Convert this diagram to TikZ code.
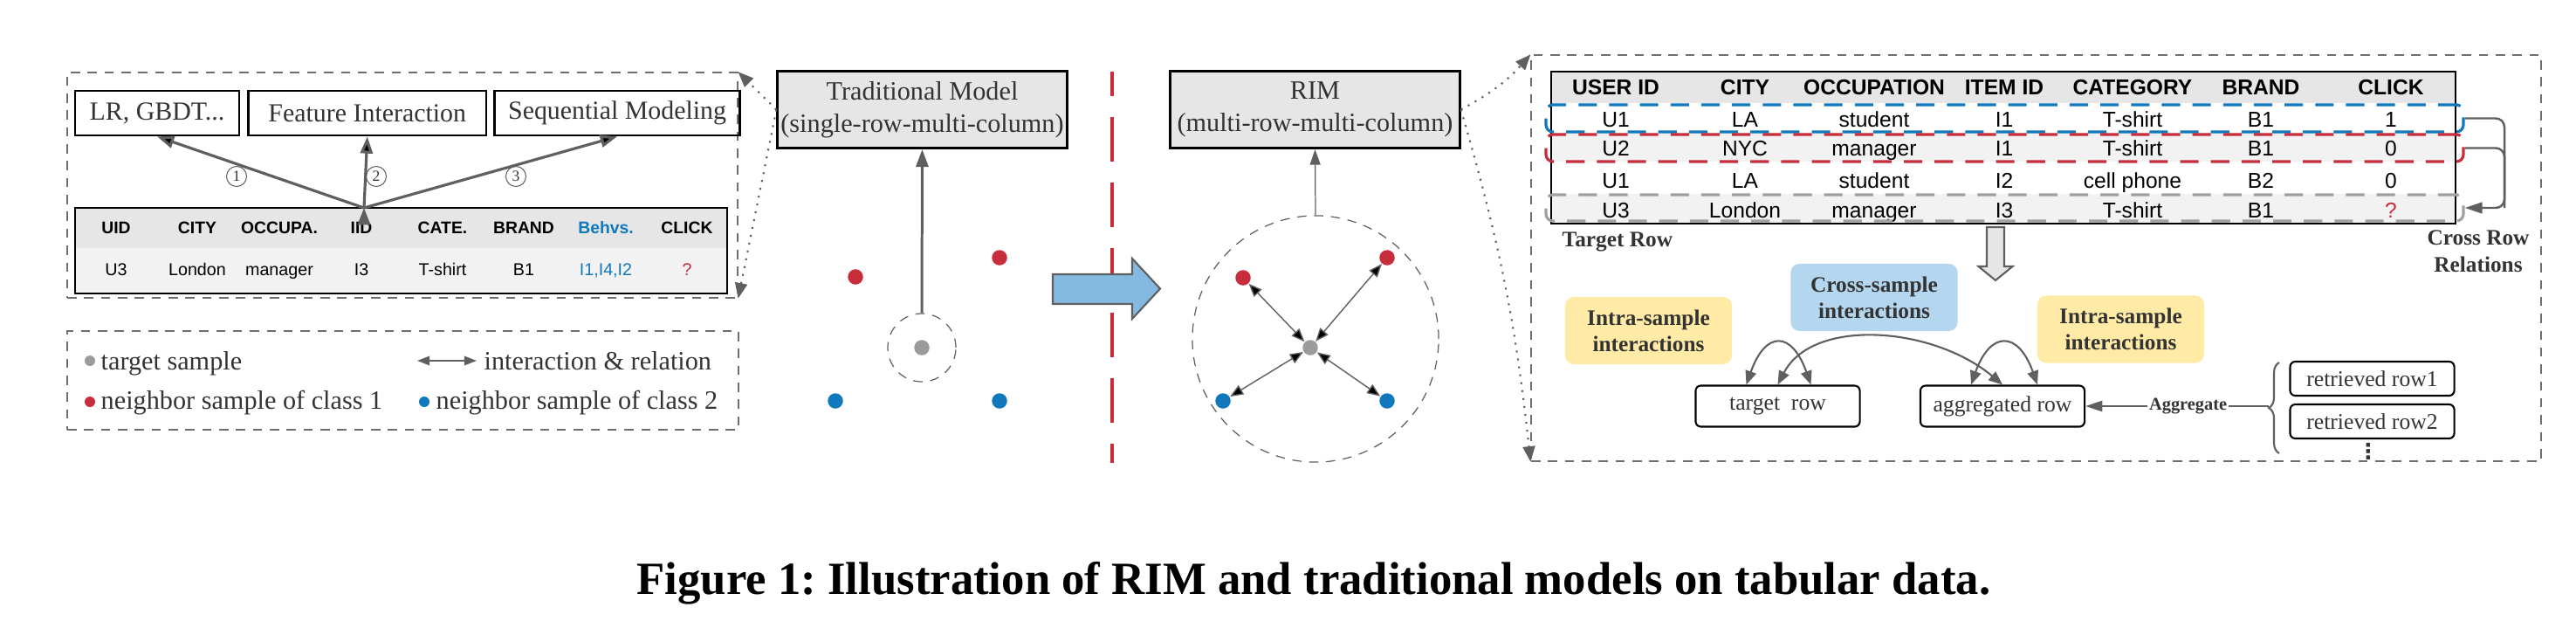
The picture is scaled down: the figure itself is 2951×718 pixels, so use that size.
\documentclass[tikz,border=0pt]{standalone}
\usepackage{fontspec}
\setmainfont{Liberation Serif}
\setsansfont{Liberation Sans}
\newfontfamily\symfont{DejaVu Sans}
\frenchspacing
\definecolor{rimred}{RGB}{200,45,60}
\definecolor{rimblue}{RGB}{16,121,189}
\definecolor{dotgray}{RGB}{155,155,155}
\definecolor{linegray}{RGB}{95,95,95}
\definecolor{panelgray}{RGB}{110,110,110}
\definecolor{headgray}{RGB}{230,230,230}
\definecolor{rowgray}{RGB}{242,242,242}
\definecolor{markgray}{RGB}{160,160,160}
\definecolor{intrayellow}{RGB}{255,234,166}
\definecolor{crossblue}{RGB}{180,214,239}
\definecolor{fatblue}{RGB}{132,185,226}
\definecolor{txtgray}{RGB}{51,51,51}
\usetikzlibrary{calc}
\usetikzlibrary{positioning}
\usetikzlibrary{fit,arrows.meta,decorations.pathreplacing}

\tikzset{
  panel/.style={draw=panelgray, dash pattern=on 3pt off 2.5pt, line width=0.35pt, inner sep=0pt},
  topbox/.style={draw=black, line width=0.75pt, minimum height=5.1mm, inner sep=0pt, text=txtgray, font=\fontsize{8.5}{10.5}\selectfont},
  modelbox/.style={draw=black, line width=0.85pt, fill=headgray, align=center, inner sep=0pt, minimum width=33.1mm, minimum height=8.8mm, text=txtgray, font=\fontsize{8.6}{10.5}\selectfont},
  tabframe/.style={draw=black, line width=0.4pt, inner sep=0pt},
  lhead/.style={anchor=base, inner sep=0pt, font=\sffamily\bfseries\fontsize{5.5}{6}\selectfont},
  lcell/.style={anchor=base, inner sep=0pt, font=\sffamily\fontsize{5.6}{6}\selectfont},
  rhead/.style={anchor=base, inner sep=0pt, font=\sffamily\bfseries\fontsize{7}{8}\selectfont},
  rcell/.style={anchor=base, inner sep=0pt, font=\sffamily\fontsize{7}{8}\selectfont},
  numcirc/.style={circle, draw=linegray, line width=0.3pt, inner sep=0pt, minimum size=2.3mm, text=txtgray, font=\fontsize{5}{5}\selectfont},
  legtext/.style={anchor=base west, inner sep=0pt, text=txtgray, font=\fontsize{8.6}{10}\selectfont},
  dot/.style={circle, inner sep=0pt, minimum size=1.75mm},
  ring/.style={circle, draw=linegray, dash pattern=on 3pt off 2.5pt, line width=0.35pt, inner sep=0pt},
  fanarrow/.style={draw=linegray, line width=0.9pt, -{Triangle[length=5.5pt,width=4pt]}},
  modelarrow/.style={draw=linegray, line width=0.85pt, -{Triangle[length=5.7pt,width=4pt]}},
  rimarrow/.style={draw=linegray, line width=0.35pt, -{Triangle[length=5pt,width=3.4pt]}},
  duoarrow/.style={draw=linegray, line width=0.4pt, {Triangle[length=4.3pt,width=3.4pt]}-{Triangle[length=4.3pt,width=3.4pt]}},
  legarrow/.style={draw=linegray, line width=0.4pt, {Triangle[length=4pt,width=3pt]}-{Triangle[length=4pt,width=3pt]}},
  dotarrow/.style={draw=linegray, line width=0.6pt, dotted, -{Triangle[length=5pt,width=4pt]}},
  rowmark/.style={draw=#1, line width=0.9pt, dash pattern=on 6pt off 4pt, rounded corners=0.8mm, inner sep=0pt},
  relline/.style={draw=linegray, line width=0.7pt, rounded corners=1mm},
  boldlabel/.style={inner sep=0pt, text=txtgray, font=\bfseries\fontsize{7.2}{8.8}\selectfont},
  intrabox/.style={fill=intrayellow, rounded corners=1mm, align=center, inner sep=0pt, minimum width=19.1mm, minimum height=7.7mm, text=txtgray, font=\bfseries\fontsize{7.2}{8.5}\selectfont},
  rowbox/.style={draw=black, line width=0.6pt, rounded corners=0.6mm, inner sep=0pt, minimum width=18.8mm, minimum height=4.7mm, text=txtgray, font=\fontsize{7.3}{8}\selectfont},
  looparrow/.style={draw=linegray, line width=0.6pt, {Triangle[length=4.5pt,width=3.6pt]}-{Triangle[length=4.5pt,width=3.6pt]}},
  aggarrow/.style={draw=linegray, line width=0.6pt, -{Triangle[length=5.5pt,width=3.5pt]}}
}

\begin{document}
\begin{tikzpicture}[x=0.01cm, y=-0.01cm]
  \useasboundingbox (0,0) rectangle (2951,718);

  % single row, multi column
  \node [panel, fit={(77,83) (845,341)}] (leftpanel) {};
  \node [topbox, minimum width=18.8mm] (lrbox) at (180,129.5) {LR, GBDT...};
  \node [topbox, minimum width=27.2mm, right=0.8mm of lrbox] (fibox) {Feature Interaction};
  \node [topbox, minimum width=28.1mm, right=0.7mm of fibox] (smbox) {Sequential Modeling};

  \fill [rowgray] (86,284) rectangle (833,336);
  \fill [headgray] (86,238) rectangle (833,284);
  \node [tabframe, fit={(86,238) (833,336)}] (ltab) {};
  \foreach \x/\t [count=\i] in {133/UID, 226/CITY, 320/OCCUPA., 414/IID, 507/CATE., 600/BRAND, 787/CLICK}
    \node [lhead] (lh\i) at (\x,267) {\t};
  \node [lhead, text=rimblue] (lh8) at (694,267) {Behvs.};
  \foreach \x/\t [count=\i] in {133/U3, 226/London, 320/manager, 414/I3, 507/T-shirt, 600/B1}
    \node [lcell] (lv\i) at (\x,315) {\t};
  \node [lcell, text=rimblue] (lv7) at (694,315) {I1,I4,I2};
  \node [lcell, text=rimred] (lv8) at (787,315) {?};

  \coordinate (fork) at (417,238);
  \draw [fanarrow] (fork) edge (lrbox.south) (fork) edge (fibox.south) (fork) edge (smbox.south);
  \node [numcirc] (num1) at (271,202) {1};
  \node [numcirc] (num2) at (431,202) {2};
  \node [numcirc] (num3) at (591,202) {3};

  % legend
  \node [panel, fit={(77,379) (846,492)}] (legend) {};
  \node [dot, minimum size=1.2mm, fill=dotgray] (lgdot1) at (103,413) {};
  \node [legtext] (lgtext1) at (115,423) {target sample};
  \coordinate (lgarrowL) at (478,413);
  \coordinate (lgarrowR) at (546,413);
  \draw [legarrow] (lgarrowL) -- (lgarrowR);
  \node [legtext] (lgtext2) at (554,423) {interaction \& relation};
  \node [dot, minimum size=1.2mm, fill=rimred] (lgdot3) at (103,460) {};
  \node [legtext] (lgtext3) at (115,468) {neighbor sample of class 1};
  \node [dot, minimum size=1.2mm, fill=rimblue] (lgdot4) at (486,460) {};
  \node [legtext] (lgtext4) at (499,468) {neighbor sample of class 2};

  % traditional model
  \node [modelbox] (trad) at (1056.5,125.5) {Traditional Model\\(single-row-multi-column)};
  \node [ring, minimum size=7.8mm] (tring) at (1056,398) {};
  \node [dot, fill=dotgray] (tcenter) at (1056,398) {};
  \node [dot, fill=rimred] (tred1) at (980,317) {};
  \node [dot, fill=rimred] (tred2) at (1145,295) {};
  \node [dot, fill=rimblue] (tblue1) at (957,459) {};
  \node [dot, fill=rimblue] (tblue2) at (1145,459) {};
  \draw [modelarrow] (tring.north) -- (trad.south);

  \draw [dotarrow] (trad.west) -- (leftpanel.north east);
  \draw [dotarrow] (trad.west) -- (leftpanel.south east);

  \coordinate (septop) at (1274,82);
  \coordinate (sepbot) at (1274,530);
  \draw [rimred, line width=1pt, dash pattern=on 14.5pt off 6.8pt, dash phase=6.6pt] (septop) -- (sepbot);
  \draw [fill=fatblue, draw=linegray, line width=0.6pt] (1206,314) -- (1297,314) -- (1297,296) -- (1329,330.5) -- (1297,365) -- (1297,348) -- (1206,348) -- cycle;

  % RIM
  \node [modelbox] (rim) at (1506.5,125.5) {RIM\\(multi-row-multi-column)};
  \node [ring, minimum size=28.2mm] (rring) at (1507,388) {};
  \node [dot, fill=dotgray] (rcenter) at (1501,398) {};
  \node [dot, fill=rimred] (rred1) at (1424,318) {};
  \node [dot, fill=rimred] (rred2) at (1589,295) {};
  \node [dot, fill=rimblue] (rblue1) at (1401,459) {};
  \node [dot, fill=rimblue] (rblue2) at (1589,459) {};
  \draw [rimarrow] (rring.north) -- (rim.south);
  \draw [duoarrow] (rcenter) edge (rred1) (rcenter) edge (rred2) (rcenter) edge (rblue1) (rcenter) edge (rblue2);

  \node [panel, fit={(1754,63) (2911,528)}] (rightpanel) {};
  \draw [dotarrow] (rim.east) to[bend right=10] (rightpanel.north west);
  \draw [dotarrow] (rim.east) to[bend left=5] (rightpanel.south west);

  % multi row table
  \fill [headgray] (1777,82) rectangle (2813,118);
  \fill [rowgray] (1777,152) rectangle (2813,185);
  \fill [rowgray] (1777,222) rectangle (2813,256);
  \node [tabframe, fit={(1777,82) (2813,256)}] (rtab) {};
  \foreach \x/\t [count=\i] in {1851/USER ID, 1999/CITY, 2147/OCCUPATION, 2296/ITEM ID, 2443/CATEGORY, 2590/BRAND, 2739/CLICK}
    \node [rhead] (rh\i) at (\x,108) {\t};
  \foreach \y/\va/\vb/\vc/\vd/\ve/\vf/\vg [count=\r] in {145/U1/LA/student/I1/T-shirt/B1/1, 178/U2/NYC/manager/I1/T-shirt/B1/0, 215/U1/LA/student/I2/cell phone/B2/0, 249/U3/London/manager/I3/T-shirt/B1/{\textcolor{rimred}{?}}} {
    \node [rcell] (r\r a) at (1851,\y) {\va};
    \node [rcell] (r\r b) at (1999,\y) {\vb};
    \node [rcell] (r\r c) at (2147,\y) {\vc};
    \node [rcell] (r\r d) at (2296,\y) {\vd};
    \node [rcell] (r\r e) at (2443,\y) {\ve};
    \node [rcell] (r\r f) at (2590,\y) {\vf};
    \node [rcell] (r\r g) at (2739,\y) {\vg};
  }
  \node [rowmark=rimblue, fit={(1771,120) (2822,151)}] (urow1) {};
  \node [rowmark=rimred, fit={(1771,154) (2822,185)}] (urow2) {};
  \node [rowmark=markgray, fit={(1771,223) (2822,253)}] (urow4) {};

  \coordinate (relx) at (2869,0);
  \draw [relline] (urow2.east) -| (urow4.east -| relx);
  \draw [relline, -{Triangle[length=5.7pt,width=3.6pt]}] (urow1.east) -- (urow1.east -| relx) |- (urow4.east);

  \node [boldlabel, anchor=base west] (tgtlabel) at (1789,282) {Target Row};
  \node [boldlabel, align=center] (crlabel) at (2839,288) {Cross Row\\Relations};

  \draw [fill=headgray, draw=linegray, line width=0.6pt] (2276,260) -- (2296,260) -- (2296,305) -- (2305.5,305) -- (2286,321) -- (2266.5,305) -- (2276,305) -- cycle;

  % interactions
  \node [intrabox] (intraL) at (1888.5,378.5) {Intra-sample\\interactions};
  \node [intrabox, fill=crossblue] (cross) at (2147,340.5) {Cross-sample\\interactions};
  \node [intrabox] (intraR) at (2429.5,377) {Intra-sample\\interactions};

  \node [rowbox] (trow) at (2036.5,465) {target\ \ row};
  \node [rowbox] (aggrow) at (2294,465) {aggregated row};
  \node [rowbox, minimum height=3.9mm] (ret1) at (2717.5,433.5) {retrieved row1};
  \node [rowbox, minimum height=3.9mm] (ret2) at (2717.5,482.5) {retrieved row2};
  \node [inner sep=0pt, text=txtgray, font=\symfont\bfseries\fontsize{7}{7}\selectfont] (moredots) at (2713,517) {⋮};

  \draw [looparrow] ($(trow.north)+(-36,0)$) .. controls +(22,-62) and +(-22,-62) .. ($(trow.north)+(38,0)$);
  \draw [looparrow] ($(aggrow.north)+(-36,0)$) .. controls +(22,-62) and +(-22,-62) .. ($(aggrow.north)+(40,0)$);
  \draw [looparrow] (trow.north) .. controls +(40,-77) and +(-80,-67) .. (aggrow.north);

  \draw [linegray, line width=0.6pt, decorate, decoration={brace, amplitude=1.2mm}] (2611,519) -- (2611,415);
  \coordinate (bracetip) at (2599,465);
  \draw [aggarrow] (bracetip) -- node [pos=0.44, fill=white, inner sep=0.5pt, text=txtgray, font=\bfseries\fontsize{5.8}{6}\selectfont] (agglabel) {Aggregate} (aggrow.east);

  \node [anchor=base, inner sep=0pt, font=\bfseries\fontsize{15}{18}\selectfont] (caption) at (1505,680) {Figure 1: Illustration of RIM and traditional models on tabular data.};
\end{tikzpicture}
\end{document}
